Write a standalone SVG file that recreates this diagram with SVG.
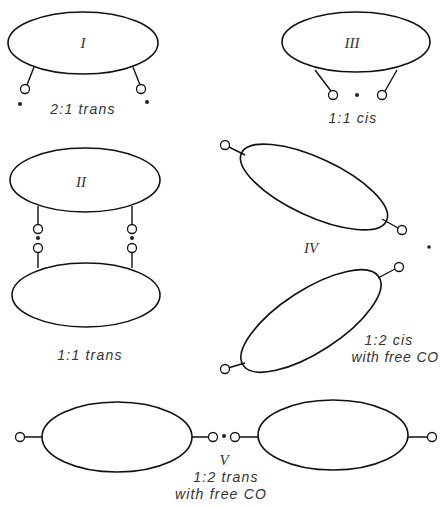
<svg xmlns="http://www.w3.org/2000/svg" width="441" height="508" viewBox="0 0 441 508">
<style>
.body{fill:none;stroke:#111;stroke-width:1.6}
.stalk{fill:none;stroke:#111;stroke-width:1.4}
.co{fill:#fff;stroke:#111;stroke-width:1.3}
.dot{fill:#222;stroke:none}
.lbl{font-family:"Liberation Sans",Arial,sans-serif;font-style:italic;font-size:14px;fill:#333;letter-spacing:1.2px;text-anchor:middle}
.num{font-family:"Liberation Serif","Times New Roman",serif;font-style:italic;font-size:15px;fill:#333;text-anchor:middle}
</style>
<rect width="441" height="508" fill="#fff"/>
<g id="connectors">
  <path class="stalk" d="M34,67 L27,85 M133,67 L140,85"/>
  <path class="stalk" d="M315,70 L331,91 M397,70 L385,91"/>
  <path class="stalk" d="M38,206 L38,225 M38,252 L38,268 M132,206 L132,225 M132,252 L132,268"/>
  <path class="stalk" d="M229,147 L245,155 M382,219 L398,228"/>
  <path class="stalk" d="M378,278 L395,269 M245,363 L228,368"/>
  <path class="stalk" d="M24,437 L42,437 M192,437 L209,437 M239,437 L258,437 M408,437 L428,437"/>
</g>
<g id="node-I">
  <ellipse class="body" cx="83" cy="43" rx="75" ry="31"/>
  <text class="num" x="83" y="48">I</text>
  <circle class="co" cx="25" cy="89" r="4.5"/>
  <circle class="co" cx="141" cy="89" r="4.5"/>
  <circle class="dot" cx="20" cy="104" r="2"/>
  <circle class="dot" cx="147" cy="102" r="2"/>
  <text class="lbl" x="83" y="114">2:1 trans</text>
</g>
<g id="node-III">
  <ellipse class="body" cx="356" cy="42" rx="74" ry="30"/>
  <text class="num" x="352" y="48">III</text>
  <circle class="co" cx="333" cy="95" r="4.5"/>
  <circle class="co" cx="382" cy="95" r="4.5"/>
  <circle class="dot" cx="357" cy="95" r="2"/>
  <text class="lbl" x="353" y="123">1:1 cis</text>
</g>
<g id="node-II">
  <ellipse class="body" cx="85" cy="180" rx="75" ry="32"/>
  <text class="num" x="81" y="187">II</text>
  <ellipse class="body" cx="86" cy="295" rx="74" ry="32"/>
  <circle class="co" cx="38" cy="229" r="4.5"/>
  <circle class="dot" cx="38" cy="238" r="2"/>
  <circle class="co" cx="38" cy="248" r="4.5"/>
  <circle class="co" cx="132" cy="229" r="4.5"/>
  <circle class="dot" cx="132" cy="238" r="2"/>
  <circle class="co" cx="132" cy="248" r="4.5"/>
  <text class="lbl" x="90" y="360">1:1 trans</text>
</g>
<g id="node-IV">
  <ellipse class="body" cx="314" cy="187" rx="80" ry="29" transform="rotate(25 314 187)"/>
  <circle class="co" cx="225" cy="145" r="4.5"/>
  <circle class="co" cx="402" cy="230" r="4.5"/>
  <text class="num" x="311" y="253">IV</text>
  <circle class="dot" cx="429" cy="247" r="1.8"/>
  <ellipse class="body" cx="311" cy="321" rx="81" ry="31" transform="rotate(-33 311 321)"/>
  <circle class="co" cx="399" cy="267" r="4.5"/>
  <circle class="co" cx="225" cy="369" r="4.5"/>
  <text class="lbl" x="389" y="345">1:2 cis</text>
  <text class="lbl" x="439" y="362" style="text-anchor:end;letter-spacing:0.8px">with free CO</text>
</g>
<g id="node-V">
  <ellipse class="body" cx="117" cy="437" rx="75" ry="35"/>
  <ellipse class="body" cx="333" cy="435" rx="75" ry="35"/>
  <circle class="co" cx="20" cy="437" r="4.5"/>
  <circle class="co" cx="213" cy="437" r="4.5"/>
  <circle class="dot" cx="224" cy="436" r="2"/>
  <circle class="co" cx="235" cy="437" r="4.5"/>
  <circle class="co" cx="432" cy="437" r="4.5"/>
  <text class="num" x="224" y="465">V</text>
  <text class="lbl" x="226" y="482">1:2 trans</text>
  <text class="lbl" x="221" y="499">with free CO</text>
</g>
</svg>
